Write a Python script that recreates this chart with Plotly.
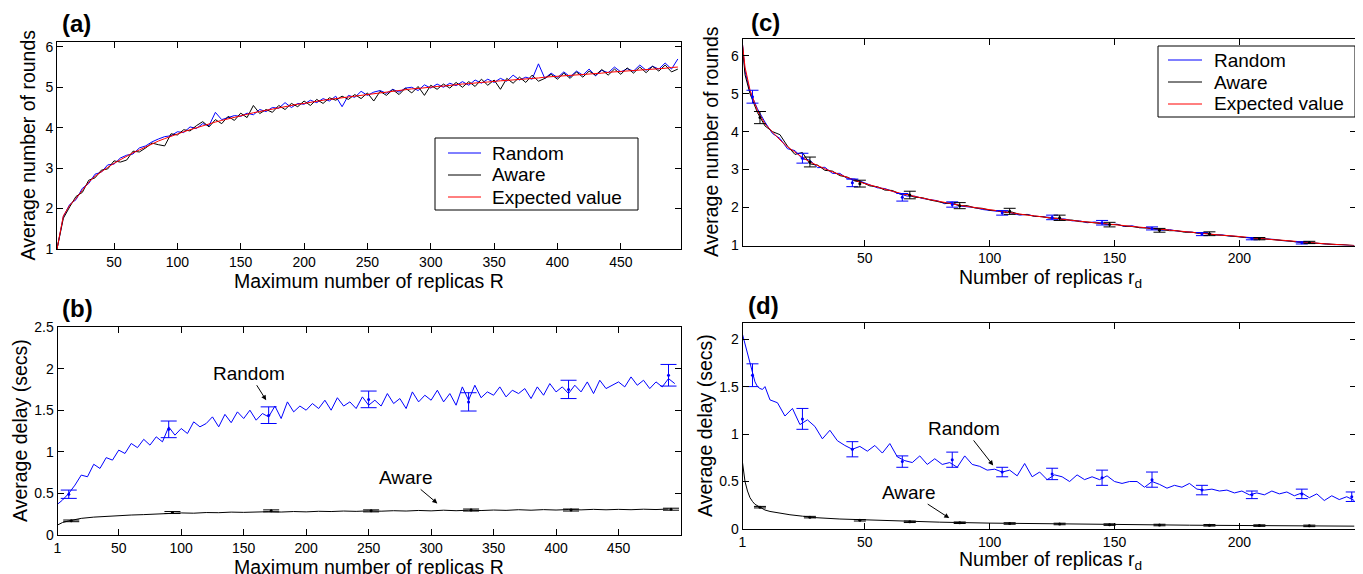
import plotly.graph_objects as go

# ---------------- (a) rounds vs maximum number of replicas R ----------------
a_x = list(range(5, 500, 5))
a_expected = [1.0, 1.82, 2.08, 2.25, 2.45, 2.65, 2.8, 2.92, 3.02, 3.12,
              3.21, 3.3, 3.38, 3.45, 3.53, 3.6, 3.67, 3.73, 3.79, 3.85,
              3.9, 3.95, 4.0, 4.05, 4.1, 4.14, 4.18, 4.22, 4.26, 4.3,
              4.33, 4.37, 4.4, 4.43, 4.47, 4.5, 4.52, 4.55, 4.58, 4.6,
              4.63, 4.65, 4.68, 4.7, 4.72, 4.75, 4.77, 4.79, 4.81, 4.83,
              4.85, 4.87, 4.89, 4.9, 4.92, 4.94, 4.96, 4.97, 4.99, 5.0,
              5.02, 5.03, 5.05, 5.06, 5.08, 5.09, 5.11, 5.12, 5.13, 5.15,
              5.16, 5.17, 5.18, 5.2, 5.21, 5.22, 5.23, 5.25, 5.26, 5.27,
              5.28, 5.29, 5.31, 5.32, 5.33, 5.34, 5.35, 5.37, 5.38, 5.39,
              5.4, 5.42, 5.43, 5.44, 5.45, 5.46, 5.47, 5.49, 5.5]
a_random = [1.0, 1.8, 2.1, 2.22, 2.5, 2.62, 2.85, 2.9, 3.08, 3.1,
            3.25, 3.32, 3.35, 3.5, 3.55, 3.65, 3.72, 3.78, 3.8, 3.9,
            3.88, 4.02, 3.98, 4.1, 4.05, 4.38, 4.2, 4.25, 4.3, 4.28,
            4.36, 4.32, 4.45, 4.4, 4.5, 4.48, 4.62, 4.5, 4.6, 4.58,
            4.68, 4.62, 4.72, 4.66, 4.78, 4.52, 4.8, 4.75, 4.9, 4.8,
            4.88, 4.92, 4.85, 4.95, 4.88, 4.98, 5.0, 4.92, 5.06, 4.98,
            5.08, 5.0, 5.1, 5.04, 5.14, 5.05, 5.18, 5.1, 5.2, 5.12,
            5.22, 5.15, 5.3, 5.18, 5.25, 5.2, 5.58, 5.22, 5.35, 5.24,
            5.38, 5.26, 5.4, 5.3, 5.45, 5.28, 5.42, 5.36, 5.5, 5.38,
            5.46, 5.4, 5.55, 5.42, 5.52, 5.45, 5.6, 5.45, 5.7]
a_aware = [1.0, 1.76, 2.04, 2.3, 2.4, 2.7, 2.76, 2.95, 2.98, 3.18,
           3.15, 3.2, 3.42, 3.4, 3.5, 3.62, 3.58, 3.55, 3.85, 3.82,
           3.95, 3.92, 4.05, 4.15, 4.02, 4.2, 4.1, 4.28, 4.18, 4.36,
           4.25, 4.55, 4.35, 4.45, 4.38, 4.55, 4.45, 4.6, 4.52, 4.66,
           4.55, 4.7, 4.6, 4.74, 4.68, 4.78, 4.7, 4.82, 4.72, 4.86,
           4.66, 4.9, 4.8, 4.94, 4.82, 4.98, 4.86, 5.02, 4.8, 5.05,
           4.95, 5.08, 4.98, 5.12, 5.0, 5.14, 5.02, 5.2, 5.05, 5.18,
           4.95, 5.22, 5.1, 5.25, 5.12, 5.3, 5.15, 5.22, 5.32, 5.2,
           5.35, 5.22, 5.38, 5.25, 5.4, 5.3, 5.44, 5.3, 5.45, 5.32,
           5.48, 5.35, 5.5, 5.36, 5.52, 5.4, 5.55, 5.38, 5.45]

# ---------------- (b) delay vs maximum number of replicas R ----------------
b_x_random = [1] + list(range(5, 500, 5))
b_random = [0.37,
            0.42, 0.5, 0.6, 0.72, 0.7, 0.85, 0.8, 0.93, 0.9, 1.02,
            0.98, 1.1, 1.05, 1.15, 1.08, 1.18, 1.12, 1.3, 1.2, 1.28,
            1.22, 1.36, 1.3, 1.34, 1.42, 1.3, 1.45, 1.35, 1.48, 1.4,
            1.5, 1.38, 1.46, 1.42, 1.55, 1.4, 1.6, 1.48, 1.55, 1.5,
            1.58, 1.52, 1.62, 1.5, 1.65, 1.55, 1.6, 1.52, 1.66, 1.56,
            1.62, 1.55, 1.7, 1.58, 1.64, 1.52, 1.72, 1.6, 1.68, 1.62,
            1.74, 1.6, 1.7, 1.56, 1.78, 1.62, 1.8, 1.65, 1.72, 1.68,
            1.78, 1.66, 1.74, 1.7, 1.76, 1.64, 1.78, 1.68, 1.82, 1.72,
            1.78, 1.7, 1.8, 1.72, 1.84, 1.7, 1.86, 1.76, 1.8, 1.84,
            1.78, 1.9, 1.8, 1.86, 1.76, 1.84, 1.78, 1.88, 1.82]
b_x_aware = [1, 5] + list(range(10, 500, 10))
b_aware = [0.12, 0.15,
           0.17, 0.2, 0.215, 0.225, 0.23, 0.24, 0.245, 0.25, 0.262, 0.265,
           0.262, 0.27, 0.268, 0.275, 0.272, 0.278, 0.28, 0.276, 0.282, 0.278,
           0.285, 0.282, 0.288, 0.284, 0.29, 0.286, 0.292, 0.288, 0.295, 0.29,
           0.298, 0.292, 0.298, 0.294, 0.3, 0.296, 0.304, 0.298, 0.305, 0.3,
           0.306, 0.302, 0.308, 0.303, 0.308, 0.304, 0.31, 0.306, 0.312]
b_eb_random_x = [10, 90, 170, 250, 330, 410, 490]
b_eb_random_y = [0.49, 1.27, 1.44, 1.63, 1.6, 1.75, 1.92]
b_eb_random_e = [0.05, 0.1, 0.1, 0.1, 0.11, 0.11, 0.13]
b_eb_aware_x = [12, 93, 172, 252, 332, 412, 492]
b_eb_aware_y = [0.17, 0.27, 0.29, 0.29, 0.3, 0.3, 0.31]
b_eb_aware_e = [0.01, 0.012, 0.012, 0.012, 0.012, 0.012, 0.012]

# ---------------- (c) rounds vs number of replicas r_d ----------------
c_x = [1, 2, 4] + list(range(7, 245, 3)) + [246]
c_expected = [6.3, 5.7, 5.1,
              4.55, 4.2, 3.98, 3.78, 3.6, 3.45, 3.32, 3.2, 3.1, 3.02,
              2.94, 2.86, 2.79, 2.72, 2.65, 2.59, 2.54, 2.48, 2.43, 2.38,
              2.33, 2.29, 2.25, 2.21, 2.17, 2.13, 2.1, 2.06, 2.03, 2.0,
              1.97, 1.94, 1.91, 1.88, 1.85, 1.83, 1.8, 1.78, 1.75, 1.73,
              1.71, 1.68, 1.66, 1.64, 1.62, 1.6, 1.58, 1.56, 1.54, 1.52,
              1.5, 1.48, 1.46, 1.44, 1.42, 1.4, 1.38, 1.36, 1.35, 1.33,
              1.31, 1.29, 1.27, 1.26, 1.24, 1.22, 1.2, 1.19, 1.17, 1.15,
              1.14, 1.12, 1.1, 1.09, 1.07, 1.06, 1.04, 1.03, 1.02, 1.01,
              1.0]
c_random = [6.3, 5.6, 5.05,
            4.6, 4.25, 3.95, 3.82, 3.55, 3.5, 3.28, 3.25, 3.05, 3.06,
            2.9, 2.9, 2.76, 2.75, 2.68, 2.6, 2.52, 2.5, 2.42, 2.36,
            2.3, 2.3, 2.24, 2.2, 2.18, 2.1, 2.14, 2.04, 2.02, 2.0,
            1.95, 1.92, 1.9, 1.9, 1.84, 1.8, 1.82, 1.77, 1.76, 1.74,
            1.7, 1.7, 1.65, 1.65, 1.6, 1.62, 1.59, 1.55, 1.56, 1.5,
            1.52, 1.47, 1.47, 1.45, 1.4, 1.42, 1.38, 1.37, 1.35, 1.32,
            1.32, 1.28, 1.28, 1.25, 1.24, 1.21, 1.2, 1.18, 1.17, 1.16,
            1.13, 1.12, 1.09, 1.08, 1.07, 1.05, 1.04, 1.02, 1.02, 1.0,
            1.0]
c_aware = [6.25, 5.5, 5.0,
           4.5, 4.15, 4.0, 3.92, 3.62, 3.4, 3.45, 3.15, 3.12, 2.98,
           2.96, 2.84, 2.8, 2.7, 2.66, 2.57, 2.55, 2.46, 2.45, 2.36,
           2.35, 2.27, 2.26, 2.2, 2.16, 2.12, 2.1, 2.05, 2.05, 1.99,
           1.98, 1.93, 1.92, 1.87, 1.88, 1.82, 1.81, 1.77, 1.76, 1.72,
           1.72, 1.67, 1.67, 1.63, 1.62, 1.59, 1.58, 1.55, 1.55, 1.51,
           1.5, 1.47, 1.46, 1.43, 1.42, 1.39, 1.39, 1.35, 1.35, 1.32,
           1.31, 1.28, 1.27, 1.25, 1.24, 1.21, 1.2, 1.18, 1.17, 1.15,
           1.14, 1.11, 1.1, 1.08, 1.07, 1.05, 1.04, 1.03, 1.02, 1.01,
           1.0]
c_eb_random_x = [5, 25, 45, 65, 85, 105, 125, 145, 165, 185, 205, 225]
c_eb_random_y = [4.92, 3.3, 2.65, 2.27, 2.08, 1.86, 1.74, 1.6, 1.45, 1.3, 1.18, 1.07]
c_eb_random_e = [0.17, 0.13, 0.1, 0.1, 0.07, 0.06, 0.06, 0.06, 0.04, 0.04, 0.03, 0.03]
c_eb_aware_x = [8, 28, 48, 68, 88, 108, 128, 148, 168, 188, 208, 228]
c_eb_aware_y = [4.37, 3.2, 2.63, 2.33, 2.05, 1.9, 1.73, 1.55, 1.4, 1.31, 1.18, 1.08]
c_eb_aware_e = [0.16, 0.13, 0.09, 0.1, 0.08, 0.08, 0.07, 0.06, 0.05, 0.05, 0.03, 0.03]

# ---------------- (d) delay vs number of replicas r_d ----------------
d_x_random = list(range(1, 11)) + list(range(12, 247, 3))
d_random = [2.05, 1.95, 1.85, 1.72, 1.62, 1.55, 1.5, 1.48, 1.47, 1.5,
            1.36, 1.33, 1.19, 1.27, 1.1, 1.15, 1.08, 0.95, 1.04, 0.93,
            0.88, 0.84, 0.87, 0.82, 0.88, 0.8, 0.9, 0.76, 0.72, 0.7,
            0.77, 0.68, 0.74, 0.68, 0.7, 0.65, 0.77, 0.68, 0.66, 0.62,
            0.63, 0.6, 0.62, 0.56, 0.69, 0.55, 0.6, 0.52, 0.57, 0.55,
            0.5, 0.57, 0.52, 0.55, 0.52, 0.56, 0.5, 0.48, 0.5, 0.5,
            0.44, 0.5, 0.47, 0.43, 0.46, 0.44, 0.48, 0.42, 0.41, 0.42,
            0.4, 0.41, 0.38, 0.4, 0.36, 0.38, 0.36, 0.4, 0.37, 0.39,
            0.35, 0.38, 0.33, 0.37, 0.3, 0.35, 0.31, 0.34, 0.3]
d_x_aware = [1, 2, 3, 4, 5, 6, 8, 10, 12, 15, 20, 25, 30, 40, 50, 60, 70, 80,
             100, 120, 150, 180, 200, 220, 246]
d_aware = [0.7, 0.5, 0.4, 0.33, 0.29, 0.26, 0.23, 0.2, 0.185, 0.17, 0.15, 0.135,
           0.12, 0.105, 0.095, 0.085, 0.078, 0.072, 0.062, 0.055, 0.047, 0.04,
           0.037, 0.034, 0.03]
d_eb_random_x = [5, 25, 45, 65, 85, 105, 125, 145, 165, 185, 205, 225, 245]
d_eb_random_y = [1.62, 1.16, 0.84, 0.71, 0.73, 0.6, 0.58, 0.54, 0.52, 0.41, 0.36, 0.37, 0.34]
d_eb_random_e = [0.12, 0.11, 0.08, 0.06, 0.08, 0.05, 0.06, 0.08, 0.08, 0.05, 0.04, 0.05, 0.05]
d_eb_aware_x = [8, 28, 48, 68, 88, 108, 128, 148, 168, 188, 208, 228]
d_eb_aware_y = [0.23, 0.125, 0.092, 0.076, 0.066, 0.058, 0.053, 0.046, 0.042, 0.039, 0.036, 0.033]
d_eb_aware_e = [0.008] * 12

legend_names = ["Random", "Aware", "Expected value"]

for xs, ys in [(a_x, a_expected), (a_x, a_random), (a_x, a_aware),
               (b_x_random, b_random), (b_x_aware, b_aware),
               (c_x, c_expected), (c_x, c_random), (c_x, c_aware),
               (d_x_random, d_random), (d_x_aware, d_aware)]:
    assert len(xs) == len(ys), (len(xs), len(ys))

BLUE = "#0000ff"
BLACK = "#000000"
RED = "#ff0000"
FONT = "Liberation Sans"
W, H = 1363, 574
OFF = 8          # the page body adds an 8 px margin around the figure
TITLE = 19.5

fig = go.Figure()


def line(x, y, color, name, xa, ya):
    fig.add_trace(go.Scatter(x=x, y=y, mode="lines", name=name,
                             line=dict(color=color, width=1),
                             xaxis=xa, yaxis=ya, showlegend=False))


def ebar(x, y, e, color, xa, ya, w):
    fig.add_trace(go.Scatter(x=x, y=y, mode="markers",
                             marker=dict(color=color, size=3),
                             error_y=dict(type="data", array=e, color=color,
                                          thickness=1, width=w),
                             xaxis=xa, yaxis=ya, showlegend=False))


# (a)
line(a_x, a_random, BLUE, "Random", "x", "y")
line(a_x, a_aware, BLACK, "Aware", "x", "y")
line(a_x, a_expected, RED, "Expected value", "x", "y")
# (b)
line(b_x_random, b_random, BLUE, "Random", "x2", "y2")
line(b_x_aware, b_aware, BLACK, "Aware", "x2", "y2")
ebar(b_eb_random_x, b_eb_random_y, b_eb_random_e, BLUE, "x2", "y2", 8)
ebar(b_eb_aware_x, b_eb_aware_y, b_eb_aware_e, BLACK, "x2", "y2", 8)
# (c)
line(c_x, c_random, BLUE, "Random", "x3", "y3")
line(c_x, c_aware, BLACK, "Aware", "x3", "y3")
line(c_x, c_expected, RED, "Expected value", "x3", "y3")
ebar(c_eb_random_x, c_eb_random_y, c_eb_random_e, BLUE, "x3", "y3", 6)
ebar(c_eb_aware_x, c_eb_aware_y, c_eb_aware_e, BLACK, "x3", "y3", 6)
# (d)
line(d_x_random, d_random, BLUE, "Random", "x4", "y4")
line(d_x_aware, d_aware, BLACK, "Aware", "x4", "y4")
ebar(d_eb_random_x, d_eb_random_y, d_eb_random_e, BLUE, "x4", "y4", 6)
ebar(d_eb_aware_x, d_eb_aware_y, d_eb_aware_e, BLACK, "x4", "y4", 6)


def px_x(p):
    return (p - OFF) / W


def px_y(p):
    return 1 - (p - OFF) / H


def axis(domain, rng, tickvals, anchor):
    return dict(domain=domain, range=rng, tickvals=tickvals, anchor=anchor,
                showline=True, linecolor="black", linewidth=1, mirror="allticks",
                ticks="inside", ticklen=6, tickcolor="black", tickwidth=1,
                showgrid=False, zeroline=False, automargin=False,
                tickfont=dict(family=FONT, size=14, color="black"))


xl, xr = px_x(57), px_x(681)
xl2, xr2 = px_x(742.5), px_x(1355.5)

fig.update_layout(
    width=W, height=H, autosize=False,
    margin=dict(l=0, r=0, t=0, b=0, pad=0),
    paper_bgcolor="white", plot_bgcolor="white",
    font=dict(family=FONT, size=14, color="black"),
    showlegend=False,
    xaxis=axis([xl, xr], [5, 497.5], [50, 100, 150, 200, 250, 300, 350, 400, 450], "y"),
    yaxis=axis([px_y(249), px_y(42)], [1, 6.12], [1, 2, 3, 4, 5, 6], "x"),
    xaxis2=axis([px_x(57.5), xr], [1, 500], [1, 50, 100, 150, 200, 250, 300, 350, 400, 450], "y2"),
    yaxis2=axis([px_y(535), px_y(327)], [0, 2.5], [0, 0.5, 1, 1.5, 2, 2.5], "x2"),
    xaxis3=axis([xl2, xr2], [1, 246.5], [50, 100, 150, 200], "y3"),
    yaxis3=axis([px_y(245.5), px_y(39)], [1, 6.44], [1, 2, 3, 4, 5, 6], "x3"),
    xaxis4=axis([xl2, xr2], [1, 246.5], [1, 50, 100, 150, 200], "y4"),
    yaxis4=axis([px_y(529), px_y(323)], [0, 2.17], [0, 0.5, 1, 1.5, 2], "x4"),
)

ann = []
shapes = []


def text(px, py, s, size=TITLE, bold=False, angle=0, xanchor="center"):
    ann.append(dict(x=px_x(px), y=px_y(py), xref="paper", yref="paper",
                    text=("<b>%s</b>" % s) if bold else s, showarrow=False,
                    xanchor=xanchor, yanchor="middle", textangle=angle,
                    font=dict(family=FONT, size=size, color="black")))


# legends drawn as a box with line samples and labels
def legend_box(x0, y0, x1, y1, line_x0, line_x1, text_x, rows):
    shapes.append(dict(type="rect", xref="paper", yref="paper",
                       x0=px_x(x0), x1=px_x(x1), y0=px_y(y1), y1=px_y(y0),
                       line=dict(color="black", width=1), fillcolor="white",
                       layer="above"))
    for (ry, color, name) in rows:
        shapes.append(dict(type="line", xref="paper", yref="paper",
                           x0=px_x(line_x0), x1=px_x(line_x1),
                           y0=px_y(ry), y1=px_y(ry),
                           line=dict(color=color, width=1), layer="above"))
        text(text_x, ry, name, size=19, xanchor="left")


legend_colors = [BLUE, BLACK, RED]
legend_box(435, 138, 638, 210, 448, 481, 490,
           list(zip([153, 175, 197], legend_colors, legend_names)))
legend_box(1158, 46, 1355, 117, 1168, 1202, 1212,
           list(zip([60, 82, 104], legend_colors, legend_names)))

# panel labels
text(76, 23, "(a)", 24, True)
text(77, 308, "(b)", 24, True)
text(765, 22, "(c)", 24, True)
text(763, 305, "(d)", 24, True)
# axis titles
text(369, 281, "Maximum number of replicas R")
text(369, 567, "Maximum number of replicas R")
text(1050, 278, "Number of replicas r<sub>d</sub>")
text(1050, 560, "Number of replicas r<sub>d</sub>")
text(28, 145.5, "Average number of rounds", angle=-90)
text(20, 431, "Average delay (secs)", angle=-90)
text(711, 142, "Average number of rounds", angle=-90)
text(705, 426, "Average delay (secs)", angle=-90)


def arrow(xa, ya, x, y, ax, ay, s):
    ann.append(dict(x=x, y=y, xref=xa, yref=ya, ax=ax, ay=ay,
                    text=s, showarrow=True, arrowhead=2, arrowsize=1,
                    arrowwidth=1, arrowcolor="black", standoff=0,
                    font=dict(family=FONT, size=19, color="black")))


arrow("x2", "y2", 168, 1.62, -17, -27, "Random")
arrow("x2", "y2", 305, 0.38, -31, -26, "Aware")
arrow("x4", "y4", 101.4, 0.67, -29, -37, "Random")
arrow("x4", "y4", 83.8, 0.115, -40, -26, "Aware")

fig.update_layout(annotations=ann, shapes=shapes)
fig.write_html("out.html")
